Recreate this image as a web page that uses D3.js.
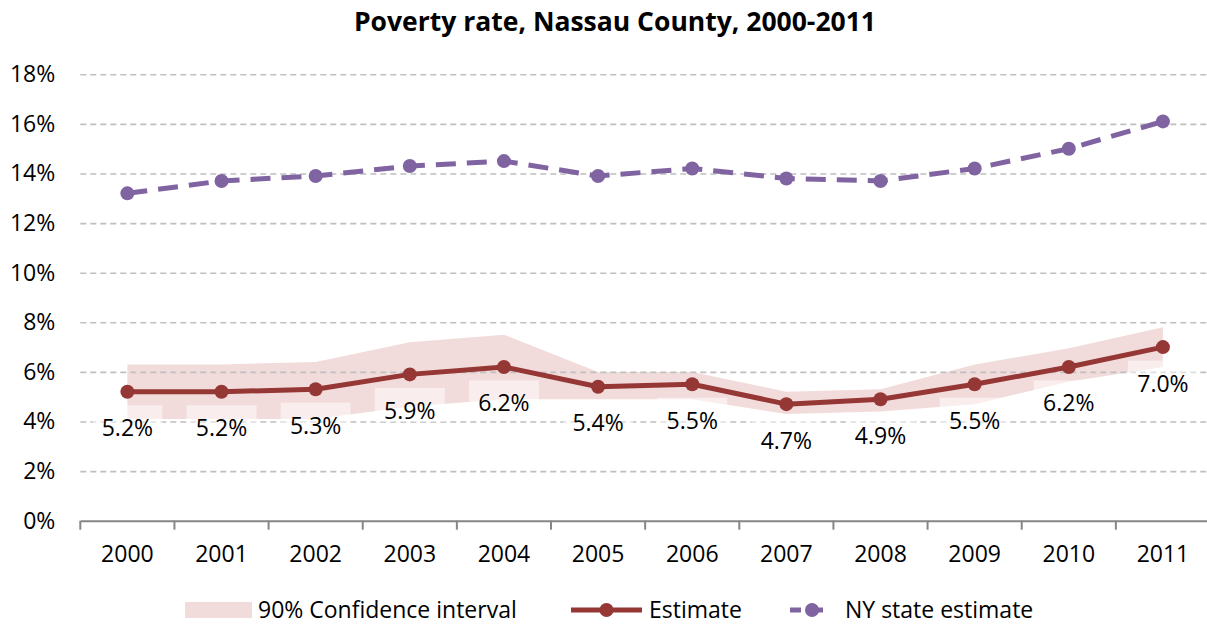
<!DOCTYPE html>
<html><head><meta charset="utf-8">
<script src="https://cdn.jsdelivr.net/npm/d3@7"></script>
<style>
html,body{margin:0;padding:0;background:#fff;}
svg{display:block;font-family:"Open Sans",sans-serif;}
</style></head>
<body>
<svg id="chart" width="1207" height="625"></svg>
<script>
const years = ["2000","2001","2002","2003","2004","2005","2006","2007","2008","2009","2010","2011"];
const estimate = [5.2,5.2,5.3,5.9,6.2,5.4,5.5,4.7,4.9,5.5,6.2,7.0];
const ciLower = [4.1,4.1,4.1,4.6,4.9,4.9,4.9,4.3,4.4,4.7,5.6,6.2];
const ciUpper = [6.3,6.3,6.4,7.2,7.5,6.0,6.0,5.2,5.3,6.3,6.95,7.8];
const nyState = [13.2,13.7,13.9,14.3,14.5,13.9,14.2,13.8,13.7,14.2,15.0,16.1];
const yTicks = [0,2,4,6,8,10,12,14,16,18];
const title = "Poverty rate, Nassau County, 2000-2011";
const legendLabels = ["90% Confidence interval","Estimate","NY state estimate"];

const svg = d3.select("#chart");
const x = d3.scaleBand().domain(years).range([80.3, 1210]).padding(0);
const cx = d => x(d) + x.bandwidth()/2;
const y = d3.scaleLinear().domain([0,18]).range([520.7, 74.3]);

const estColor = "#953735", nyColor = "#8064a2", bandColor = "#f2dcdb";
const fs = 23;

// title
svg.append("text").attr("x", 615).attr("y", 31).attr("text-anchor","middle")
  .attr("font-weight","bold").attr("font-size", 26.5).attr("fill","#000").text(title);

// CI band
const area = d3.area().x((d,i)=>cx(years[i])).y0((d,i)=>y(ciLower[i])).y1((d,i)=>y(ciUpper[i]));
svg.append("path").datum(years).attr("d", area).attr("fill", bandColor);

// gridlines
const grid = svg.append("g").attr("transform","translate(80.3,0)")
  .call(d3.axisLeft(y).tickValues(yTicks.filter(t=>t>0)).tickSize(-(1207-80.3)).tickFormat(""));
grid.select(".domain").remove();
grid.selectAll("line").attr("stroke","#bfbfbf").attr("stroke-width",1.6).attr("stroke-dasharray","6,4");

// y tick labels
const yAxis = svg.append("g").attr("transform","translate(80.3,0)")
  .call(d3.axisLeft(y).tickValues(yTicks).tickSize(0).tickPadding(25).tickFormat(d=>d+"%"));
yAxis.select(".domain").remove();
yAxis.selectAll("text").attr("font-size",fs).attr("font-family","Open Sans, sans-serif").attr("fill","#000");

// x axis
const xAxis = svg.append("g").attr("transform",`translate(0,${y(0)})`)
  .call(d3.axisBottom(x).tickSize(0).tickPadding(25));
xAxis.select(".domain").attr("stroke","#868686").attr("stroke-width",2);
xAxis.selectAll("text").attr("font-size",fs).attr("font-family","Open Sans, sans-serif").attr("fill","#000");
// category boundary ticks
svg.append("g").selectAll("line").data(years).join("line")
  .attr("x1",d=>x(d)).attr("x2",d=>x(d)).attr("y1",y(0)).attr("y2",y(0)+9)
  .attr("stroke","#868686").attr("stroke-width",2);

// label background boxes (semi-transparent white)
const labelG = svg.append("g");
labelG.selectAll("rect").data(years).join("rect")
  .attr("x",d=>cx(d)-35).attr("width",70)
  .attr("y",(d,i)=>y(estimate[i])+44.5-31).attr("height",34)
  .attr("fill","#fff").attr("fill-opacity",0.5);

// NY line
const line = d3.line().x((d,i)=>cx(years[i])).y(d=>y(d));
svg.append("path").datum(nyState).attr("d", line).attr("fill","none")
  .attr("stroke",nyColor).attr("stroke-width",5).attr("stroke-dasharray","20,11");
svg.append("g").selectAll("circle").data(nyState).join("circle")
  .attr("cx",(d,i)=>cx(years[i])).attr("cy",d=>y(d)).attr("r",7).attr("fill",nyColor);

// Estimate line
svg.append("path").datum(estimate).attr("d", line).attr("fill","none")
  .attr("stroke",estColor).attr("stroke-width",5).attr("stroke-linejoin","round");
svg.append("g").selectAll("circle").data(estimate).join("circle")
  .attr("cx",(d,i)=>cx(years[i])).attr("cy",d=>y(d)).attr("r",7).attr("fill",estColor);

// data labels
labelG.selectAll("text").data(estimate).join("text")
  .attr("x",(d,i)=>cx(years[i])).attr("y",d=>y(d)+44.5)
  .attr("text-anchor","middle").attr("font-size",fs).attr("fill","#000")
  .text(d=>d.toFixed(1)+"%");

// legend
const lg = svg.append("g");
const ly = 610;
lg.append("rect").attr("x",185).attr("y",ly-8).attr("width",67).attr("height",16).attr("fill",bandColor);
lg.append("text").attr("x",258).attr("y",ly+7.5).attr("font-size",fs).text(legendLabels[0]);
lg.append("line").attr("x1",571).attr("x2",642).attr("y1",ly).attr("y2",ly).attr("stroke",estColor).attr("stroke-width",5);
lg.append("circle").attr("cx",606.5).attr("cy",ly).attr("r",7).attr("fill",estColor);
lg.append("text").attr("x",649).attr("y",ly+7.5).attr("font-size",fs).text(legendLabels[1]);
lg.append("line").attr("x1",790).attr("x2",834).attr("y1",ly).attr("y2",ly).attr("stroke",nyColor).attr("stroke-width",5).attr("stroke-dasharray","11,11");
lg.append("circle").attr("cx",812).attr("cy",ly).attr("r",7).attr("fill",nyColor);
lg.append("text").attr("x",845).attr("y",ly+7.5).attr("font-size",fs).text(legendLabels[2]);
</script>
</body></html>
